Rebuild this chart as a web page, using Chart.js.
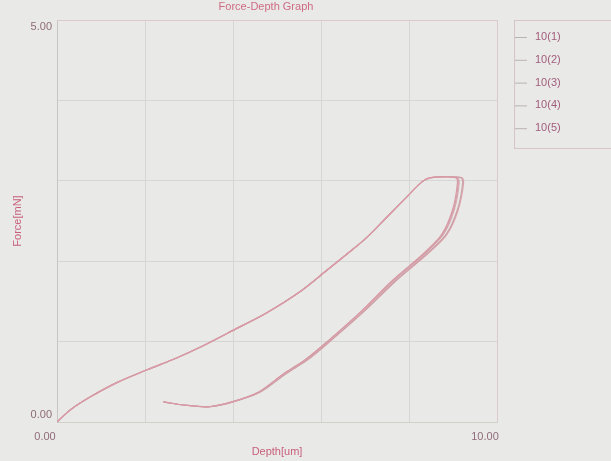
<!DOCTYPE html>
<html>
<head>
<meta charset="utf-8">
<script src="https://cdn.jsdelivr.net/npm/chart.js@4/dist/chart.umd.min.js"></script>
<style>
  html, body { margin: 0; padding: 0; background: #e9e9e7; }
  #wrap { width: 611px; height: 461px; }
</style>
</head>
<body>
<div id="wrap"><canvas id="chart" width="611" height="461"></canvas></div>
<script>
// loading branch, shared by all five indents (they overlap)
const loadDepth = [0, 0.3, 0.75, 1.36, 2.05, 2.73, 3.25, 4.0, 4.77, 5.52, 6.14, 6.66, 7.05, 7.5, 7.95, 8.3, 8.5];
const loadForce = [0, 0.15, 0.31, 0.49, 0.65, 0.8, 0.93, 1.14, 1.36, 1.62, 1.89, 2.12, 2.3, 2.55, 2.8, 2.99, 3.04];

// hold + unloading branch
const unloadForce = [3.04, 2.97, 2.64, 2.33, 2.08, 1.77, 1.36, 1.0, 0.77, 0.6, 0.37, 0.25, 0.19, 0.21, 0.25];
const unloadDepth1 = [9.06, 9.1, 8.99, 8.74, 8.3, 7.64, 6.88, 6.14, 5.63, 5.15, 4.57, 3.97, 3.45, 2.89, 2.43];
const unloadDepth2 = [9.08, 9.12, 9.01, 8.76, 8.32, 7.66, 6.89, 6.15, 5.64, 5.16, 4.58, 3.98, 3.46, 2.9, 2.43];
const unloadDepth3 = [9.1, 9.14, 9.03, 8.78, 8.34, 7.68, 6.91, 6.16, 5.65, 5.17, 4.59, 3.98, 3.46, 2.9, 2.42];
const unloadDepth4 = [9.18, 9.22, 9.1, 8.84, 8.38, 7.72, 6.94, 6.19, 5.68, 5.2, 4.61, 4.0, 3.48, 2.91, 2.41];
const unloadDepth5 = [9.2, 9.24, 9.12, 8.86, 8.4, 7.73, 6.95, 6.2, 5.69, 5.2, 4.61, 4.0, 3.48, 2.91, 2.41];

const seriesLabels = ['10(1)', '10(2)', '10(3)', '10(4)', '10(5)'];
const seriesColors = ['#d99aa6', '#cfa2aa', '#dcaab2', '#c8a0a6', '#e0a4ae'];

const xTicks = [0, 10];
const yTicks = [0, 5];

const unloadSets = [unloadDepth1, unloadDepth2, unloadDepth3, unloadDepth4, unloadDepth5];

function buildPoints(unloadDepth) {
    const pts = loadDepth.map((d, i) => ({ x: d, y: loadForce[i] }));
    unloadDepth.forEach((d, i) => pts.push({ x: d, y: unloadForce[i] }));
    return pts;
}

const datasets = seriesLabels.map((lbl, i) => ({
    label: lbl,
    data: buildPoints(unloadSets[i]),
    borderColor: seriesColors[i],
    borderWidth: 1.2,
    pointRadius: 0,
    showLine: true,
    tension: 0.3,
    fill: false
}));

// frame, title, y tick labels and the boxed legend
const decorPlugin = {
    id: 'decor',
    afterDraw(chart) {
        const { ctx, chartArea: a, scales } = chart;
        ctx.save();
        // top + right frame
        ctx.strokeStyle = '#dcc9cd';
        ctx.lineWidth = 1;
        ctx.beginPath();
        ctx.moveTo(a.left, a.top + 0.5);
        ctx.lineTo(a.right + 0.5, a.top + 0.5);
        ctx.lineTo(a.right + 0.5, a.bottom);
        ctx.stroke();

        // title (cut off at the top in the photo)
        ctx.font = '11px "Liberation Sans", Arial, sans-serif';
        ctx.fillStyle = '#cf6b84';
        ctx.textAlign = 'center';
        ctx.textBaseline = 'middle';
        ctx.fillText('Force-Depth Graph', 266, 7);

        // y tick labels sit just inside the end gridlines
        ctx.fillStyle = '#8f6b7a';
        ctx.textAlign = 'right';
        yTicks.forEach(v => {
            const py = scales.y.getPixelForValue(v);
            const off = v === yTicks[0] ? -7 : 7;
            ctx.fillText(v.toFixed(2), a.left - 5, py + off);
        });

        // legend box
        ctx.strokeStyle = '#d6c4c8';
        ctx.strokeRect(514.5, 20.5, 110, 128);
        chart.data.datasets.forEach((ds, i) => {
            const y = 37 + i * 22.8;
            ctx.strokeStyle = '#b9b2b4';
            ctx.beginPath();
            ctx.moveTo(515, y + 0.5);
            ctx.lineTo(527, y + 0.5);
            ctx.stroke();
            ctx.fillStyle = '#a15d7c';
            ctx.textAlign = 'left';
            ctx.fillText(ds.label, 535, y);
        });
        ctx.restore();
    }
};

new Chart(document.getElementById('chart'), {
    type: 'scatter',
    data: { datasets: datasets },
    options: {
        responsive: false,
        animation: false,
        layout: { padding: { top: 20, right: 114, left: 0, bottom: 0 } },
        scales: {
            x: {
                type: 'linear',
                min: 0,
                max: 10,
                afterFit: (s) => { s.height = 39; },
                border: { color: '#cfd0c6' },
                grid: { color: '#d6d6d4', drawTicks: false },
                ticks: {
                    stepSize: 2,
                    padding: 8,
                    color: '#8f6b7a',
                    font: { family: '"Liberation Sans", Arial, sans-serif', size: 11 },
                    labelOffset: -12,
                    maxRotation: 0,
                    callback: (v) => xTicks.includes(v) ? v.toFixed(2) : ''
                },
                title: {
                    display: true,
                    text: 'Depth[um]',
                    color: '#c8607c',
                    padding: { top: 0, bottom: 2 },
                    font: { family: '"Liberation Sans", Arial, sans-serif', size: 11 }
                }
            },
            y: {
                type: 'linear',
                min: 0,
                max: 5,
                afterFit: (s) => { s.width = 57; },
                border: { color: '#c9c4c6' },
                grid: { color: '#d6d6d4', drawTicks: false },
                ticks: {
                    stepSize: 1,
                    display: false
                },
                title: {
                    display: true,
                    text: 'Force[mN]',
                    color: '#c8607c',
                    padding: { top: 11, bottom: 17 },
                    font: { family: '"Liberation Sans", Arial, sans-serif', size: 11 }
                }
            }
        },
        plugins: {
            legend: { display: false },
            tooltip: { enabled: false }
        }
    },
    plugins: [decorPlugin]
});
</script>
</body>
</html>
